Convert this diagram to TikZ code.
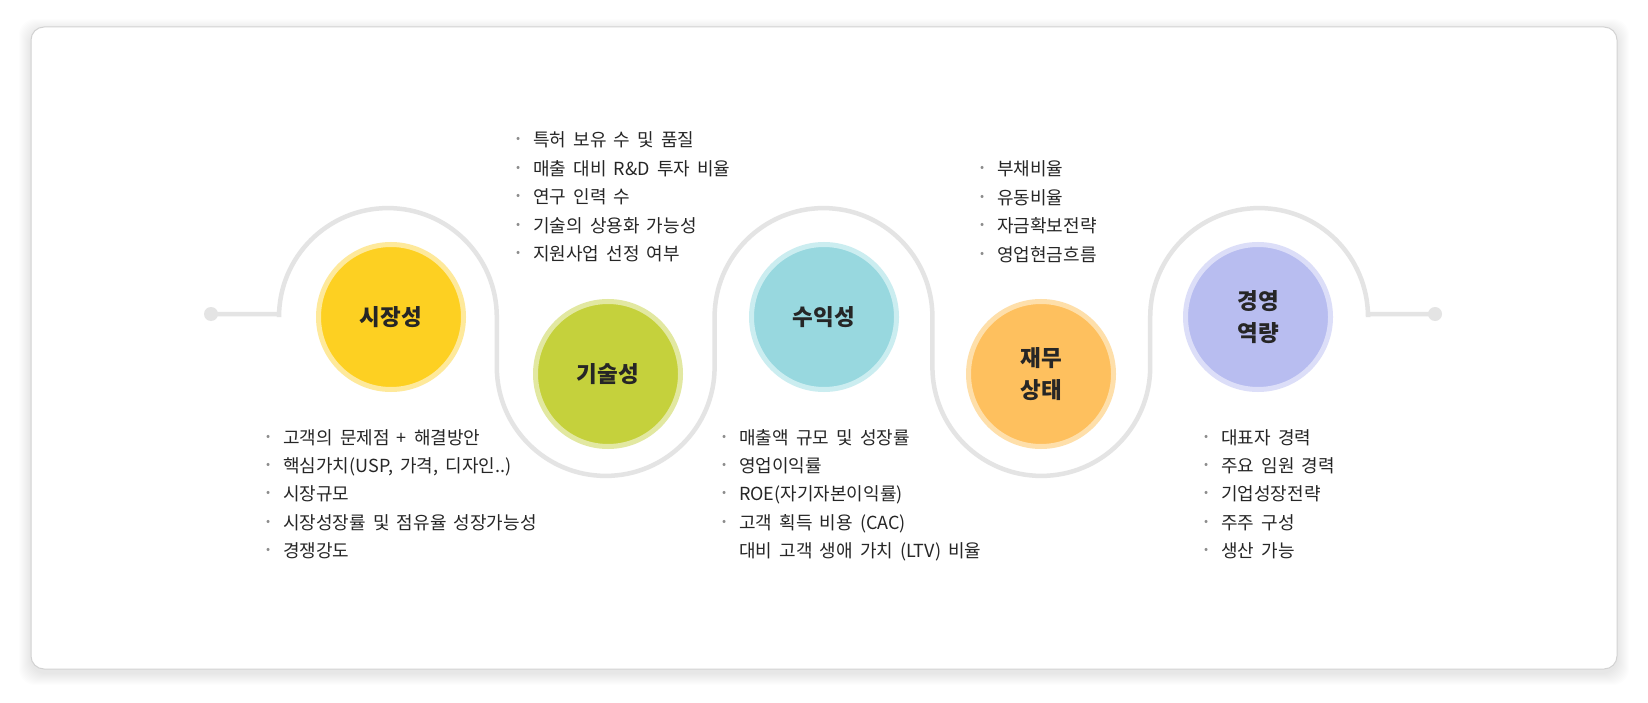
\documentclass[tikz,border=0pt]{standalone}
\usepackage{fontspec}
\setmainfont{Noto Sans CJK KR}
\usepackage{tikz}
\usetikzlibrary{calc, positioning}

\definecolor{trackgray}{HTML}{E4E4E4}
\definecolor{cardline}{HTML}{D2D2D2}
\definecolor{pointgray}{HTML}{8C8C8C}
\definecolor{textdark}{HTML}{262626}
\definecolor{mktfill}{HTML}{FDD022}
\definecolor{mktring}{HTML}{FEE99B}
\definecolor{techfill}{HTML}{C5D13C}
\definecolor{techring}{HTML}{E2E8A1}
\definecolor{proffill}{HTML}{98D8DF}
\definecolor{profring}{HTML}{CBEDF0}
\definecolor{finfill}{HTML}{FEC05E}
\definecolor{finring}{HTML}{FEDFAA}
\definecolor{mgmtfill}{HTML}{B8BDF0}
\definecolor{mgmtring}{HTML}{DCDEF8}

\newcommand{\pnt}{\makebox[8pt]{\raisebox{4pt}{\color{pointgray}\fontsize{12}{12}\selectfont •}}}
\newcommand{\listfont}{\fontsize{18}{28.4}\selectfont\spaceskip=0.4em\relax}

\begin{document}
\begin{tikzpicture}[x=1pt, y=-1pt]
    \tikzstyle{stage} = [circle, minimum size=145pt, inner sep=0pt, line width=5pt,
                         align=center, text=textdark, font=\bfseries\fontsize{22.5}{32}\selectfont]
    \tikzstyle{knob}  = [circle, fill=trackgray, minimum size=14pt, inner sep=0pt]
    \tikzstyle{track} = [line width=4.5pt, trackgray]
    \tikzstyle{pts}   = [anchor=base west, inner sep=0pt, text=textdark, font=\listfont]

    \useasboundingbox (0,0) rectangle (1648,703);
    \fill[white] (0,0) rectangle (1648,703);
    \foreach \s in {1,...,12}
        \fill[black, opacity=0.006, rounded corners=16pt] (31-\s,27-\s+4) rectangle (1617+\s,669+\s+4);
    \draw[cardline, fill=white, line width=1pt, rounded corners=13pt] (31,27) rectangle (1617,669);

    \node (endL) [knob] at (211,314) {};
    \node (endR) [knob] at (1435,314) {};
    \draw [track] (endL.center) -- (279,314) -- ++(0,3)
        arc[start angle=180, end angle=360, radius=108.9] -- ++(0,50)
        arc[start angle=180, end angle=0, radius=108.9] -- ++(0,-50)
        arc[start angle=180, end angle=360, radius=108.9] -- ++(0,50)
        arc[start angle=180, end angle=0, radius=108.9] -- ++(0,-50)
        arc[start angle=180, end angle=360, radius=108.9] -- (1368,314) -- (endR.center);

    \node (mkt)  [stage, fill=mktfill, draw=mktring]   at (391,317)  {시장성};
    \node (tech) [stage, fill=techfill, draw=techring] at (608,374)  {기술성};
    \node (prof) [stage, fill=proffill, draw=profring] at (824,317)  {수익성};
    \node (fin)  [stage, fill=finfill, draw=finring]   at (1041,374) {재무\\상태};
    \node (mgmt) [stage, fill=mgmtfill, draw=mgmtring] at (1258,317) {경영\\역량};

    \node (mktlist) [pts] at (264,444) {\begin{tabular}[t]{@{}l@{\hspace{11pt}}l@{}}
        \pnt & 고객의 문제점 + 해결방안\\
        \pnt & 핵심가치(USP, 가격, 디자인..)\\
        \pnt & 시장규모\\
        \pnt & 시장성장률 및 점유율 성장가능성\\
        \pnt & 경쟁강도
    \end{tabular}};
    \node (techlist) [pts] at (514,147) {\begin{tabular}[t]{@{}l@{\hspace{11pt}}l@{}}
        \pnt & 특허 보유 수 및 품질\\
        \pnt & 매출 대비 R\&D 투자 비율\\
        \pnt & 연구 인력 수\\
        \pnt & 기술의 상용화 가능성\\
        \pnt & 지원사업 선정 여부
    \end{tabular}};
    \node (proflist) [pts] at (720,444) {\begin{tabular}[t]{@{}l@{\hspace{11pt}}l@{}}
        \pnt & 매출액 규모 및 성장률\\
        \pnt & 영업이익률\\
        \pnt & ROE(자기자본이익률)\\
        \pnt & 고객 획득 비용 (CAC)\\
             & 대비 고객 생애 가치 (LTV) 비율
    \end{tabular}};
    \node (finlist) [pts] at (978,176) {\begin{tabular}[t]{@{}l@{\hspace{11pt}}l@{}}
        \pnt & 부채비율\\
        \pnt & 유동비율\\
        \pnt & 자금확보전략\\
        \pnt & 영업현금흐름
    \end{tabular}};
    \node (mgmtlist) [pts] at (1202,444) {\begin{tabular}[t]{@{}l@{\hspace{11pt}}l@{}}
        \pnt & 대표자 경력\\
        \pnt & 주요 임원 경력\\
        \pnt & 기업성장전략\\
        \pnt & 주주 구성\\
        \pnt & 생산 가능
    \end{tabular}};
\end{tikzpicture}
\end{document}
